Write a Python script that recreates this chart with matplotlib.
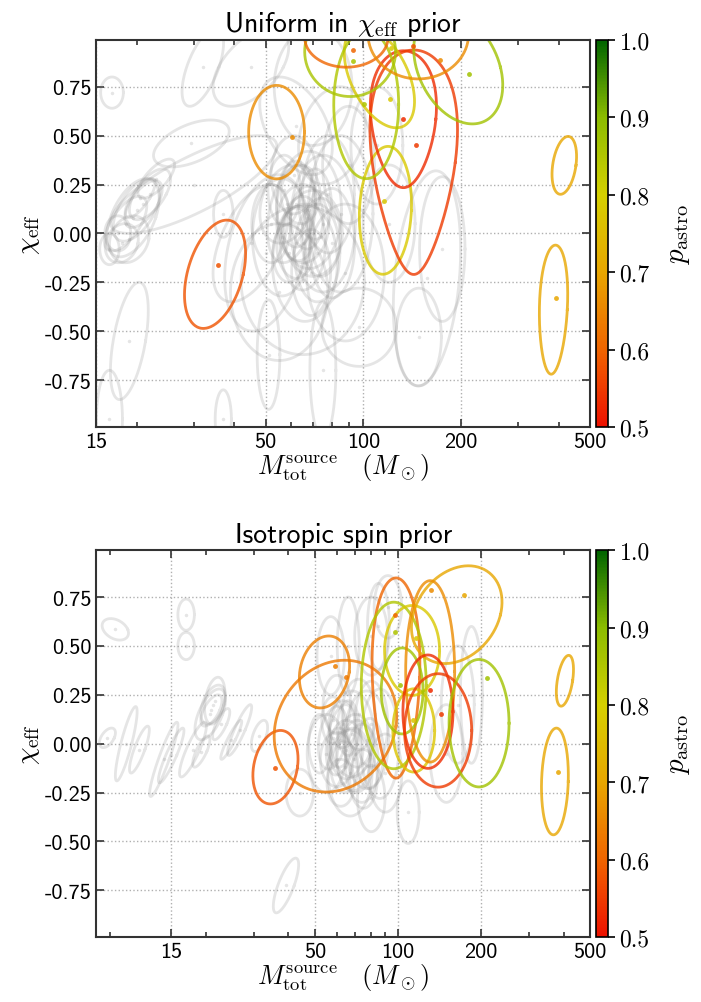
import numpy as np
import matplotlib
matplotlib.use('Agg')
import matplotlib.pyplot as plt
from matplotlib.colors import LinearSegmentedColormap, Normalize
from matplotlib.cm import ScalarMappable

plt.rcParams['mathtext.fontset'] = 'cm'
plt.rcParams['axes.unicode_minus'] = False

# colour scale for p_astro
cmap = LinearSegmentedColormap.from_list('pastro', [(0.0, '#ee1100'), (0.2, '#ef6500'), (0.4, '#e8a600'),
                                                    (0.6, '#d5d000'), (0.8, '#8cbc00'), (1.0, '#006400')])
norm = Normalize(0.5, 1.0)

# ---- data: 90% regions (centre mass, centre chi, half width in dex, half height, shear, skew, p_astro)
top_m = [54.0, 34.9, 384.8, 415.9, 116.9, 132.8, 142.9, 112.0, 196.0, 102.0, 91.0, 88.6, 147.6]
top_chi = [0.518, -0.209, -0.39, 0.348, 0.118, 0.584, 0.364, 0.80, 0.85, 0.66, 0.93, 1.0, 1.02]
top_hw = [0.086, 0.087, 0.043, 0.036, 0.080, 0.10, 0.128, 0.095, 0.13, 0.10, 0.14, 0.128, 0.155]
top_hh = [0.239, 0.277, 0.33, 0.148, 0.327, 0.35, 0.574, 0.26, 0.29, 0.38, 0.23, 0.15, 0.23]
top_shear = [0.0, 0.13, 0.02, 0.079, 0.024, 0.0, 0.0, -0.2, -0.15, 0.0, 0.0, 0.0, 0.0]
top_skew = [0.0, 0.0, 0.1, 0.0, 0.0, 0.2, 0.35, 0.0, 0.0, 0.0, 0.0, 0.0, 0.0]
top_p = [0.66, 0.58, 0.70, 0.70, 0.78, 0.53, 0.55, 0.78, 0.87, 0.85, 0.86, 0.60, 0.66]
top_dot_m = [60.3, 35.6, 392.7, 116.0, 132.5, 145.7, 121.0, 212.0, 93.0, 93.0, 172.6, 142.0, 122.0, 100.7]
top_dot_chi = [0.491, -0.161, -0.329, 0.166, 0.584, 0.45, 0.686, 0.813, 0.88, 0.94, 0.886, 0.96, 0.95, 0.66]
top_dot_p = [0.66, 0.58, 0.70, 0.78, 0.53, 0.55, 0.78, 0.87, 0.86, 0.60, 0.66, 0.58, 0.78, 0.85]

bot_m = [35.9, 54.1, 59.3, 98.4, 96.6, 112.6, 114.2, 103.6, 163.6, 131.0, 128.6, 140.0, 197.2, 404.5, 372.0]
bot_chi = [-0.12, 0.367, 0.09, 0.336, 0.298, 0.477, 0.068, 0.27, 0.66, 0.37, 0.164, 0.068, 0.105, 0.322, -0.193]
bot_hw = [0.08, 0.09, 0.22, 0.086, 0.118, 0.10, 0.076, 0.076, 0.159, 0.089, 0.091, 0.122, 0.109, 0.028, 0.0485]
bot_hh = [0.188, 0.184, 0.337, 0.512, 0.426, 0.23, 0.213, 0.22, 0.25, 0.464, 0.29, 0.29, 0.326, 0.13, 0.273]
bot_shear = [0.097, 0.083, 0.1, 0.0, 0.0, 0.0, 0.0, 0.0, 0.17, 0.0, 0.0, 0.0, 0.0, 0.106, 0.02]
bot_skew = [0.0, 0.0, 0.0, 0.15, 0.0, 0.0, 0.0, 0.0, 0.0, 0.0, 0.0, 0.0, 0.0, 0.0, 0.0]
bot_p = [0.58, 0.64, 0.63, 0.60, 0.85, 0.78, 0.77, 0.87, 0.70, 0.66, 0.53, 0.55, 0.87, 0.70, 0.70]
bot_dot_m = [35.9, 59.3, 64.9, 97.3, 97.5, 116.0, 113.4, 102.0, 173.5, 132.3, 130.4, 143.4, 210.6, 382.4]
bot_dot_chi = [-0.124, 0.395, 0.339, 0.656, 0.571, 0.54, 0.119, 0.302, 0.762, 0.786, 0.273, 0.153, 0.338, -0.147]
bot_dot_p = [0.58, 0.64, 0.63, 0.60, 0.85, 0.78, 0.77, 0.87, 0.70, 0.66, 0.53, 0.55, 0.87, 0.70]

# other events, drawn in grey (centre mass, centre chi, half width dex, half height, shear)
gray_top = [
    (16.8, 0.72, 0.035, 0.08, 0.0), (20.0, 0.12, 0.06, 0.16, 0.25), (21.0, 0.15, 0.045, 0.12, 0.3),
    (19.5, 0.08, 0.07, 0.20, 0.2), (18.0, -0.05, 0.05, 0.10, 0.1), (22.0, 0.20, 0.05, 0.13, 0.3),
    (17.5, 0.00, 0.04, 0.09, 0.0), (19.0, -0.03, 0.06, 0.12, 0.1), (16.5, -0.08, 0.03, 0.08, 0.0),
    (20.5, 0.18, 0.03, 0.10, 0.35), (18.5, 0.05, 0.05, 0.14, 0.3), (23.0, 0.28, 0.04, 0.10, 0.4),
    (29.5, 0.46, 0.10, 0.12, 0.5), (30.0, 0.25, 0.16, 0.25, 0.8), (19.0, -0.55, 0.05, 0.30, 0.1),
    (16.5, -0.95, 0.04, 0.25, 0.0), (37.0, -0.95, 0.025, 0.15, 0.0), (37.0, 0.10, 0.03, 0.12, 0.0),
    (32.0, 0.85, 0.05, 0.20, 0.2), (45.0, 0.85, 0.10, 0.20, 0.3), (70.0, 0.75, 0.12, 0.30, 0.0),
    (62.0, 0.55, 0.10, 0.25, -0.2), (50.0, -0.10, 0.12, 0.40, 0.1), (55.0, -0.30, 0.15, 0.35, 0.0),
    (45.0, -0.05, 0.10, 0.30, 0.2), (65.0, 0.05, 0.08, 0.20, 0.0), (60.0, 0.10, 0.07, 0.25, 0.1),
    (70.0, 0.00, 0.09, 0.22, 0.0), (62.0, -0.05, 0.06, 0.18, 0.0), (68.0, 0.12, 0.10, 0.30, 0.0),
    (58.0, 0.15, 0.08, 0.20, 0.1), (72.0, -0.10, 0.07, 0.25, 0.0), (64.0, 0.20, 0.06, 0.15, 0.0),
    (75.0, 0.05, 0.10, 0.35, 0.0), (56.0, -0.02, 0.09, 0.30, 0.0), (66.0, -0.15, 0.10, 0.30, 0.0),
    (78.0, 0.20, 0.08, 0.30, 0.0), (61.0, 0.30, 0.07, 0.20, 0.0), (85.0, 0.10, 0.10, 0.40, 0.0),
    (52.0, 0.05, 0.06, 0.20, 0.0), (63.0, 0.00, 0.05, 0.14, 0.0), (67.0, 0.08, 0.05, 0.16, 0.0),
    (59.0, -0.10, 0.05, 0.15, 0.0), (71.0, 0.15, 0.05, 0.18, 0.0), (65.0, -0.05, 0.07, 0.24, 0.0),
    (62.0, 0.15, 0.06, 0.22, 0.0), (74.0, -0.02, 0.06, 0.20, 0.0), (69.0, -0.20, 0.06, 0.22, 0.0),
    (57.0, 0.22, 0.05, 0.18, 0.0), (80.0, -0.05, 0.07, 0.28, 0.0),
    (175.0, -0.08, 0.07, 0.37, 0.0), (157.0, -0.23, 0.10, 0.55, 0.05),
    (148.0, -0.53, 0.07, 0.25, 0.0), (97.0, -0.48, 0.115, 0.20, 0.0), (65.0, -0.24, 0.19, 0.38, 0.0),
    (51.0, -0.62, 0.035, 0.28, 0.0), (75.0, -0.70, 0.04, 0.35, 0.0), (90.0, 0.35, 0.08, 0.30, 0.0),
    (80.0, 0.50, 0.10, 0.25, 0.1), (110.0, 0.45, 0.08, 0.30, 0.0), (120.0, 0.05, 0.08, 0.30, 0.0),
    (88.0, -0.20, 0.12, 0.35, 0.0),
]
gray_bot = [
    (9.4, 0.585, 0.045, 0.055, -0.3), (17.0, 0.66, 0.03, 0.08, 0.0), (17.0, 0.50, 0.03, 0.07, 0.0),
    (39.2, -0.725, 0.03, 0.14, 0.25), (8.8, 0.03, 0.025, 0.05, 0.3), (10.3, 0.0, 0.02, 0.19, 0.18),
    (11.5, -0.03, 0.02, 0.12, 0.25), (14.1, -0.08, 0.02, 0.19, 0.25), (15.0, -0.06, 0.02, 0.14, 0.3),
    (18.0, -0.03, 0.025, 0.14, 0.3), (19.3, -0.04, 0.02, 0.08, 0.3), (21.3, 0.20, 0.04, 0.10, 0.2),
    (21.0, 0.17, 0.03, 0.08, 0.3), (21.6, 0.22, 0.035, 0.12, 0.1), (20.8, 0.15, 0.045, 0.13, 0.25),
    (22.8, 0.10, 0.02, 0.08, 0.3), (24.8, 0.02, 0.015, 0.10, 0.35), (26.6, 0.07, 0.02, 0.13, 0.3),
    (31.4, 0.04, 0.025, 0.08, 0.2), (44.0, -0.25, 0.05, 0.12, 0.0), (57.0, 0.45, 0.05, 0.20, 0.0),
    (66.0, 0.50, 0.04, 0.25, 0.0), (80.0, 0.55, 0.06, 0.20, 0.0), (85.0, 0.60, 0.04, 0.22, 0.0),
    (92.0, 0.70, 0.05, 0.16, 0.0), (109.0, -0.35, 0.04, 0.16, 0.0), (80.0, -0.28, 0.05, 0.17, 0.0),
    (165.0, 0.20, 0.06, 0.30, 0.0), (150.0, -0.05, 0.06, 0.25, 0.0), (185.0, 0.25, 0.04, 0.35, 0.0),
    (65.0, -0.03, 0.06, 0.15, 0.0), (62.0, 0.02, 0.05, 0.18, 0.1), (70.0, -0.05, 0.07, 0.20, 0.0),
    (60.0, -0.08, 0.06, 0.14, 0.0), (68.0, 0.05, 0.08, 0.22, 0.0), (58.0, 0.03, 0.05, 0.16, 0.1),
    (74.0, -0.10, 0.06, 0.20, 0.0), (63.0, 0.10, 0.05, 0.12, 0.0), (77.0, 0.02, 0.08, 0.25, 0.0),
    (55.0, -0.05, 0.07, 0.20, 0.0), (67.0, -0.15, 0.08, 0.22, 0.0), (80.0, 0.10, 0.06, 0.22, 0.0),
    (60.0, 0.20, 0.05, 0.15, 0.0), (86.0, 0.00, 0.07, 0.28, 0.0), (52.0, 0.00, 0.04, 0.15, 0.0),
    (72.0, 0.15, 0.06, 0.18, 0.0), (90.0, -0.15, 0.06, 0.20, 0.0), (64.0, -0.12, 0.05, 0.13, 0.0),
    (71.0, 0.00, 0.05, 0.12, 0.0), (66.0, 0.08, 0.04, 0.14, 0.0), (75.0, -0.18, 0.05, 0.15, 0.0),
    (61.0, -0.02, 0.04, 0.10, 0.0), (69.0, -0.08, 0.06, 0.16, 0.0), (58.0, 0.12, 0.04, 0.12, 0.0),
    (79.0, -0.05, 0.05, 0.18, 0.0), (62.0, -0.20, 0.05, 0.12, 0.0),
]


def region(ax, m, chi, hw, hh, shear=0.0, skew=0.0, **kw):
    t = np.linspace(0, 2 * np.pi, 240)
    lx = np.log10(m) + hw * np.cos(t) * (1 + skew * np.sin(t)) + shear * hh * np.sin(t)
    ax.plot(10 ** lx, chi + hh * np.sin(t), **kw)


fig = plt.figure(figsize=(7.01, 10.03), dpi=100)
axes = [fig.add_axes([0.137, 0.5733, 0.705, 0.386]), fig.add_axes([0.137, 0.0645, 0.705, 0.386])]
caxes = [fig.add_axes([0.850, 0.5733, 0.017, 0.386]), fig.add_axes([0.850, 0.0645, 0.017, 0.386])]

panels = [
    ('Uniform in $\\chi_{\\rm eff}$ prior', 15, gray_top,
     (top_m, top_chi, top_hw, top_hh, top_shear, top_skew, top_p), (top_dot_m, top_dot_chi, top_dot_p)),
    ('Isotropic spin prior', 8, gray_bot,
     (bot_m, bot_chi, bot_hw, bot_hh, bot_shear, bot_skew, bot_p), (bot_dot_m, bot_dot_chi, bot_dot_p)),
]

for ax, cax, (title, xmin, gray, col, dots) in zip(axes, caxes, panels):
    ax.set_xscale('log')
    for g in gray:
        region(ax, *g, color='#8a8a8a', alpha=0.22, lw=2.0)
        ax.plot(g[0], g[1], 'o', color='#8a8a8a', alpha=0.22, ms=2.5, mec='none')
    for m, c, w, h, s, k, p in zip(*col):
        region(ax, m, c, w, h, s, k, color=cmap(norm(p)), alpha=0.8, lw=2.0)
    for m, c, p in zip(*dots):
        ax.plot(m, c, 'o', color=cmap(norm(p)), alpha=0.85, ms=3.5, mec='none')

    ax.set_xlim(xmin, 500)
    ax.set_ylim(-0.99, 0.99)
    ax.set_xticks([15, 50, 100, 200, 500])
    ax.set_xticklabels(['15', '50', '100', '200', '500'], family='cmss10', size=16)
    yt = [-0.75, -0.5, -0.25, 0.0, 0.25, 0.5, 0.75]
    ax.set_yticks(yt)
    ax.set_yticklabels(['%.2f' % v for v in yt], family='cmss10', size=16)
    ax.tick_params(which='both', direction='in', top=True, right=True, width=1.2, color='#333333')
    ax.tick_params(which='major', length=6)
    ax.tick_params(which='minor', length=3.5)
    ax.grid(True, which='major', ls=':', color='#b0b0b0', lw=1.0)
    for sp in ax.spines.values():
        sp.set_linewidth(1.5)
        sp.set_color('#333333')
    ax.set_title(title, family='cmss10', size=20, pad=6)
    ax.set_xlabel('$M_{\\rm tot}^{\\rm source}\\quad(M_\\odot)$', size=19, labelpad=0)
    ax.set_ylabel('$\\chi_{\\rm eff}$', size=20, labelpad=2)

    cb = fig.colorbar(ScalarMappable(norm=norm, cmap=cmap), cax=cax)
    cb.set_ticks([0.5, 0.6, 0.7, 0.8, 0.9, 1.0])
    cb.set_ticklabels(['0.5', '0.6', '0.7', '0.8', '0.9', '1.0'])
    for lab in cax.get_yticklabels():
        lab.set_family('cmr10')
        lab.set_size(17)
    cax.tick_params(length=5, width=1.2)
    cb.outline.set_linewidth(1.2)
    cb.set_label('$p_{\\rm astro}$', size=21, labelpad=10)

fig.savefig('out.png', dpi=100)
